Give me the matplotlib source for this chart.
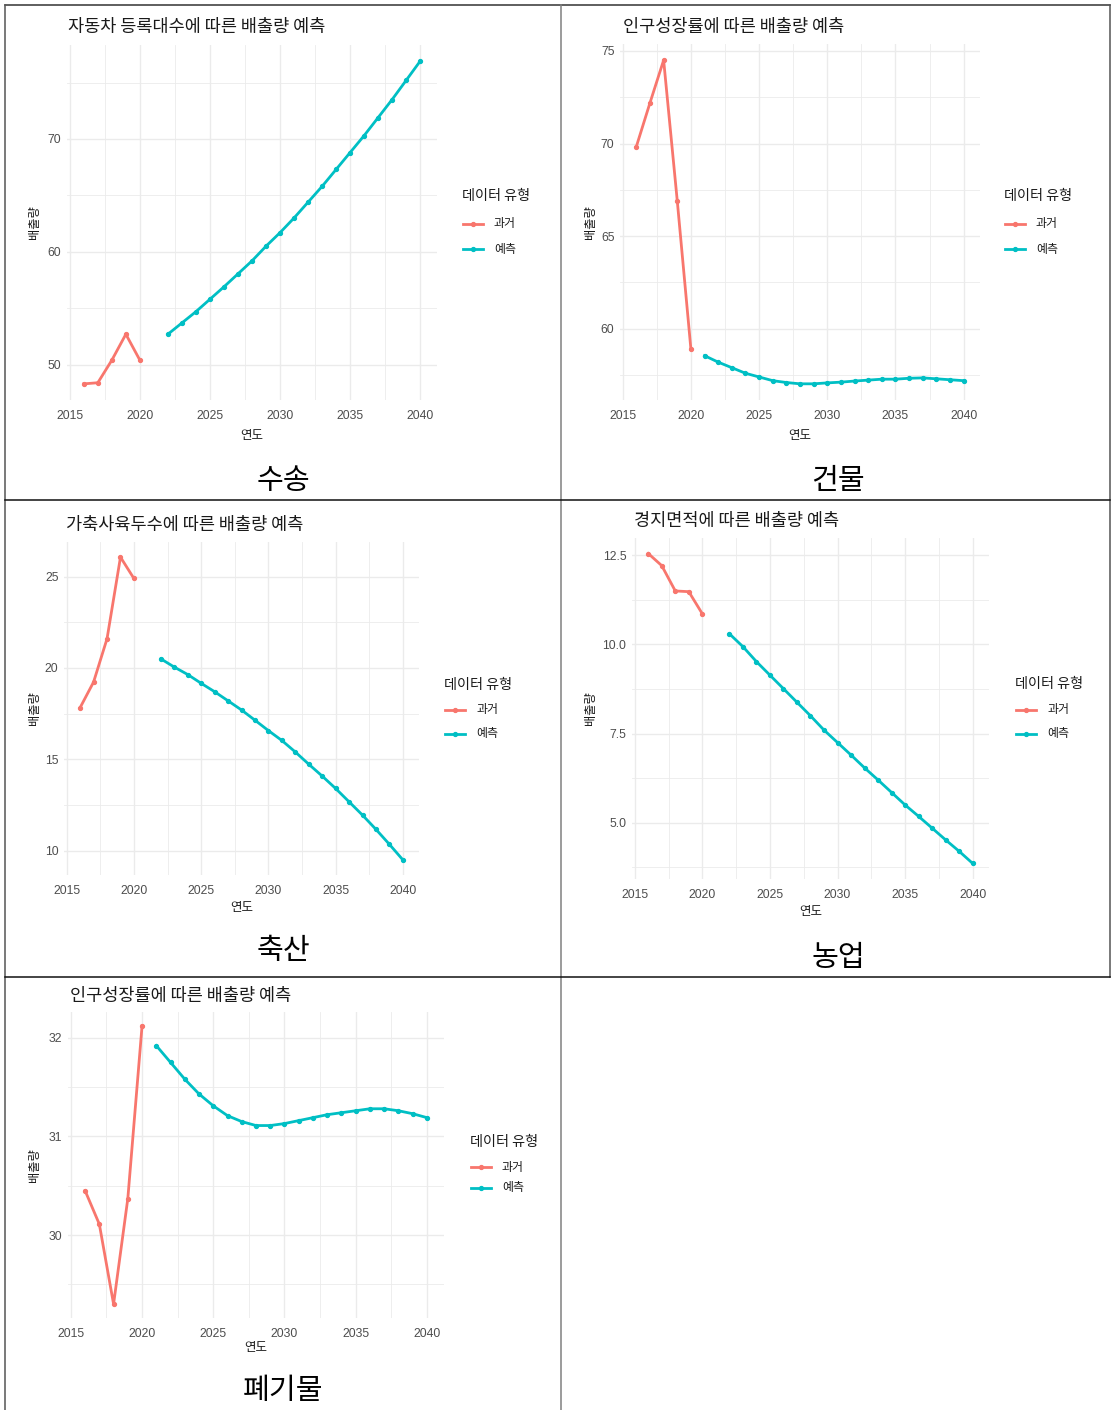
import matplotlib
matplotlib.use("Agg")
import matplotlib.pyplot as plt
from matplotlib.lines import Line2D
from matplotlib.ticker import MultipleLocator, FormatStrFormatter

plt.rcParams['font.family'] = ['Noto Sans CJK KR', 'DejaVu Sans']

# ---------------- data ----------------
past_years = [2016, 2017, 2018, 2019, 2020]
fc_years_22 = list(range(2022, 2041))
fc_years_21 = list(range(2021, 2041))

transport_past = [48.3, 48.4, 50.4, 52.7, 50.4]
transport_fc = [52.7, 53.7, 54.7, 55.8, 56.9, 58.05, 59.2, 60.5, 61.7, 63.0,
                64.4, 65.8, 67.3, 68.8, 70.3, 71.9, 73.5, 75.2, 76.9]

building_past = [69.84, 72.2, 74.5, 66.9, 58.9]
building_fc = [58.55, 58.2, 57.9, 57.6, 57.4, 57.2, 57.1, 57.03, 57.03, 57.08,
               57.12, 57.18, 57.23, 57.28, 57.28, 57.33, 57.35, 57.3, 57.25, 57.2]

livestock_past = [17.83, 19.23, 21.6, 26.07, 24.9]
livestock_fc = [20.5, 20.05, 19.64, 19.16, 18.7, 18.2, 17.7, 17.14, 16.57, 16.03,
                15.4, 14.73, 14.08, 13.4, 12.67, 11.94, 11.16, 10.34, 9.49]

agri_past = [12.55, 12.21, 11.5, 11.48, 10.86]
agri_fc = [10.3, 9.94, 9.52, 9.14, 8.76, 8.38, 8.0, 7.6, 7.25, 6.9,
           6.54, 6.2, 5.85, 5.5, 5.18, 4.85, 4.52, 4.2, 3.86]

waste_past = [30.45, 30.11, 29.3, 30.37, 32.12]
waste_fc = [31.92, 31.75, 31.58, 31.43, 31.31, 31.21, 31.15, 31.11, 31.11, 31.13,
            31.16, 31.19, 31.22, 31.24, 31.26, 31.28, 31.28, 31.26, 31.23, 31.19]

titles = ["자동차 등록대수에 따른 배출량 예측", "인구성장률에 따른 배출량 예측",
          "가축사육두수에 따른 배출량 예측", "경지면적에 따른 배출량 예측",
          "인구성장률에 따른 배출량 예측"]
captions = ["수송", "건물", "축산", "농업", "폐기물"]
legend_title = "데이터 유형"
series_labels = ["과거", "예측"]
x_label = "연도"
y_label = "배출량"

# ---------------- layout (pixels) ----------------
W, H = 1111, 1410
RED, TEAL = "#F8766D", "#00BFC4"

panels = [
    dict(past=transport_past, fyears=fc_years_22, fc=transport_fc, step=10, minor=5, fmt="%d",
         box=(67, 45, 437, 400), title_xy=(68, 27), xlab_y=435, ylab_x=35,
         leg=(462, 196, 224, 249), cap=(283, 481)),
    dict(past=building_past, fyears=fc_years_21, fc=building_fc, step=5, minor=2.5, fmt="%d",
         box=(620, 44, 980, 400), title_xy=(623, 27), xlab_y=435, ylab_x=590,
         leg=(1004, 196, 224, 249), cap=(838, 481)),
    dict(past=livestock_past, fyears=fc_years_22, fc=livestock_fc, step=5, minor=2.5, fmt="%d",
         box=(64, 542, 419, 875), title_xy=(66, 525), xlab_y=908, ylab_x=35,
         leg=(444, 685, 710, 734), cap=(283, 951)),
    dict(past=agri_past, fyears=fc_years_22, fc=agri_fc, step=2.5, minor=1.25, fmt="%.1f",
         box=(632, 538, 989, 879), title_xy=(634, 521), xlab_y=912, ylab_x=590,
         leg=(1015, 684, 710, 734), cap=(838, 958)),
    dict(past=waste_past, fyears=fc_years_21, fc=waste_fc, step=1, minor=0.5, fmt="%d",
         box=(68, 1012, 444, 1318), title_xy=(70, 996), xlab_y=1348, ylab_x=35,
         leg=(470, 1142, 1167, 1188), cap=(283, 1391)),
]

fig = plt.figure(figsize=(W / 100, H / 100), dpi=100)
fig.patch.set_facecolor("white")


def fx(x):
    return x / W


def fy(y):
    return 1 - y / H


GRID = "#EBEBEB"
TICK_COLOR = "#4D4D4D"
TICK_FONT = ["Liberation Sans", "DejaVu Sans"]

for i, p in enumerate(panels):
    l, t, r, b = p["box"]
    ax = fig.add_axes([fx(l), fy(b), (r - l) / W, (b - t) / H])
    ax.plot(past_years, p["past"], color=RED, lw=2.0, marker="o", ms=2.8, zorder=3)
    ax.plot(p["fyears"], p["fc"], color=TEAL, lw=2.0, marker="o", ms=2.8, zorder=3)
    ax.margins(x=0.05, y=0.05)

    ax.xaxis.set_major_locator(MultipleLocator(5))
    ax.xaxis.set_minor_locator(MultipleLocator(2.5))
    ax.yaxis.set_major_locator(MultipleLocator(p["step"]))
    ax.yaxis.set_minor_locator(MultipleLocator(p["minor"]))
    ax.yaxis.set_major_formatter(FormatStrFormatter(p["fmt"]))

    ax.grid(which="major", color=GRID, lw=1.0)
    ax.grid(which="minor", color=GRID, lw=0.6)
    ax.set_axisbelow(True)
    for s in ax.spines.values():
        s.set_visible(False)
    ax.tick_params(which="both", length=0)
    ax.tick_params(axis="x", pad=7)
    ax.tick_params(axis="y", pad=4)
    for lab in ax.get_xticklabels() + ax.get_yticklabels():
        lab.set_family(TICK_FONT)
        lab.set_fontsize(8.8)
        lab.set_color(TICK_COLOR)

    # titles and axis labels
    tx, ty = p["title_xy"]
    fig.text(fx(tx), fy(ty), titles[i], fontsize=12.6, color="#1A1A1A", ha="left", va="center")
    fig.text(fx((l + r) / 2), fy(p["xlab_y"]), x_label, fontsize=9, color="#1A1A1A",
             ha="center", va="center")
    fig.text(fx(p["ylab_x"]), fy((t + b) / 2), y_label, fontsize=8.8, color="#1A1A1A",
             ha="center", va="center", rotation=90)

    # legend
    lx, ly, y1, y2 = p["leg"]
    fig.text(fx(lx), fy(ly), legend_title, fontsize=10.2, color="#1A1A1A", ha="left", va="center")
    for col, yy, lab in [(RED, y1, series_labels[0]), (TEAL, y2, series_labels[1])]:
        fig.add_artist(Line2D([fx(lx + 1), fx(lx + 21)], [fy(yy), fy(yy)], color=col, lw=2.0,
                              transform=fig.transFigure))
        fig.add_artist(Line2D([fx(lx + 11)], [fy(yy)], color=col, marker="o", ms=2.8,
                              transform=fig.transFigure))
        fig.text(fx(lx + 32), fy(yy), lab, fontsize=8.6, color="#1A1A1A", ha="left", va="center")

    # caption
    cx, cy = p["cap"]
    fig.text(fx(cx), fy(cy), captions[i], fontsize=21, color="black", ha="center", va="center")

# table rules
rules = [
    ((5, 1110), (5, 5), "#333333"),
    ((5, 5), (5, 1410), "#555555"),
    ((1110, 1110), (5, 977), "#555555"),
    ((561, 561), (5, 1410), "#808080"),
    ((5, 1110), (500, 500), "#111111"),
    ((5, 1110), (977, 977), "#111111"),
]
for xs, ys, c in rules:
    fig.add_artist(Line2D([fx(xs[0]), fx(xs[1])], [fy(ys[0]), fy(ys[1])], color=c, lw=1.1,
                          transform=fig.transFigure))

fig.savefig("out.png", dpi=100, facecolor="white")
